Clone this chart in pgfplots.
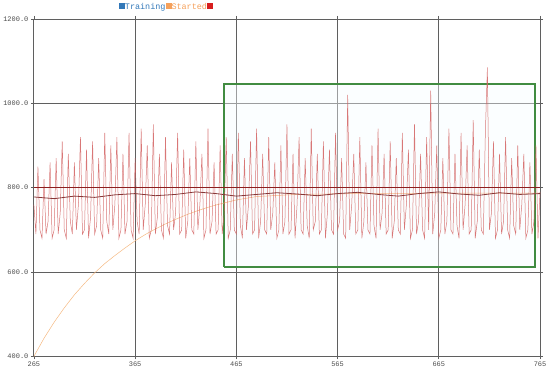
\documentclass[border=0pt]{standalone}
\usepackage{pgfplots}
\pgfplotsset{compat=1.18}
\usepackage{fontspec}
\setmainfont{Liberation Mono}
\definecolor{gridc}{RGB}{95,95,95}
\definecolor{sig}{RGB}{210,95,95}
\definecolor{avg}{RGB}{135,55,55}
\definecolor{basec}{RGB}{140,30,30}
\definecolor{growc}{RGB}{245,185,130}
\definecolor{boxg}{RGB}{65,140,65}
\definecolor{legb}{RGB}{50,120,185}
\definecolor{lego}{RGB}{245,160,90}
\definecolor{legr}{RGB}{215,30,30}

\pgfplotstableread{
x y
265 760
267 690
269 850
271 700
273 680
275 820
277 690
279 720
281 860
283 680
285 700
287 870
289 690
291 740
293 910
295 700
297 680
299 880
301 720
303 690
305 860
307 700
309 760
311 920
313 690
315 700
317 890
319 680
321 730
323 910
325 690
327 710
329 870
331 700
333 680
335 930
337 720
339 690
341 900
343 700
345 760
347 920
349 680
351 700
353 880
355 690
357 720
359 930
361 700
363 680
365 870
367 720
369 690
371 940
373 700
375 760
377 900
379 680
381 700
383 950
385 690
387 730
389 880
391 700
393 680
395 920
397 710
399 690
401 860
403 700
405 740
407 930
409 690
411 700
413 890
415 680
417 720
419 870
421 700
423 690
425 910
427 700
429 760
431 880
433 680
435 700
437 940
439 690
441 720
443 860
445 690
447 700
449 900
451 690
453 740
455 920
457 680
459 700
461 880
463 700
465 690
467 930
469 710
471 680
473 870
475 700
477 760
479 910
481 690
483 700
485 940
487 680
489 720
491 880
493 700
495 690
497 920
499 700
501 740
503 860
505 680
507 700
509 900
511 690
513 720
515 950
517 690
519 700
521 880
523 680
525 760
527 920
529 700
531 690
533 870
535 710
537 680
539 940
541 700
543 720
545 880
547 690
549 700
551 910
553 680
555 740
557 890
559 700
561 690
563 930
565 700
567 720
569 870
571 690
573 680
575 1020
577 700
579 760
581 880
583 690
585 700
587 920
589 680
591 720
593 860
595 700
597 690
599 900
601 710
603 680
605 940
607 700
609 740
611 880
613 690
615 700
617 910
619 680
621 720
623 870
625 700
627 690
629 930
631 700
633 760
635 890
637 680
639 700
641 950
643 690
645 720
647 880
649 700
651 680
653 920
655 700
657 1030
659 690
661 740
663 900
665 680
667 700
669 870
671 690
673 720
675 940
677 700
679 690
681 880
683 710
685 680
687 930
689 700
691 760
693 900
695 690
697 700
699 960
701 680
703 720
705 890
707 700
709 690
711 930
713 1085
715 700
717 740
719 910
721 680
723 700
725 880
727 690
729 720
731 920
733 700
735 680
737 870
739 710
741 690
743 900
745 700
747 760
749 880
751 680
753 700
755 860
757 690
759 720
761 900
763 680
765 790
}\signal

\begin{document}
\begin{tikzpicture}
\begin{axis}[
    at={(0,0)}, anchor=south west,
    scale only axis,
    width=507bp, height=338bp,
    xmin=265, xmax=765, ymin=400, ymax=1200,
    xtick={265,365,465,565,665,765},
    xticklabels={265,365,465,565,665,765},
    ytick={400,600,800,1000,1200},
    yticklabels={400.0,600.0,800.0,1000.0,1200.0},
    grid=major,
    grid style={gridc, line width=0.8bp},
    axis line style={gridc, line width=0.8bp},
    tick align=outside,
    major tick length=3bp,
    tick style={gridc, line width=0.6bp},
    ticklabel style={font=\fontsize{7}{8}\selectfont, text=black!70},
    xticklabel style={yshift=1bp},
    yticklabel style={xshift=1bp},
    clip=false,
]
\addplot[draw=boxg, line width=2bp, fill=cyan!4, fill opacity=0.4]
  coordinates {(453,613) (760,613) (760,1046) (453,1046) (453,613)};
\addplot[growc, line width=0.5bp] coordinates {
(265,400) (275,443) (285,481) (295,515) (305,546) (315,573) (325,598)
(335,620) (345,639) (355,657) (365,674) (375,689) (385,702) (395,714)
(405,725) (415,735) (425,744) (435,752) (445,759) (465,771) (485,779)
(525,784) (585,786) (665,787) (765,787)};
\addplot[sig, line width=0.5bp, opacity=0.85] table[x=x, y=y] {\signal};
\addplot[basec, line width=0.8bp] coordinates {(265,800) (765,800)};
\addplot[avg, line width=0.8bp] coordinates {
(265,778) (285,774) (305,780) (325,777) (345,783) (365,786) (385,781)
(405,784) (425,790) (445,786) (465,780) (485,784) (505,788) (525,785)
(545,781) (565,786) (585,789) (605,784) (625,780) (645,786) (665,790)
(685,785) (705,782) (725,788) (745,784) (765,786)};
\end{axis}
\node[anchor=west, inner sep=0pt, font=\fontsize{8.5}{9}\selectfont] at (85bp,350bp)
  {{\color{legb}\rule{6bp}{6bp}}\textcolor{legb}{Training}{\color{lego}\rule{6bp}{6bp}}\textcolor{lego}{Started}{\color{legr}\rule{6bp}{6bp}}};
\path[use as bounding box] (-33bp,-15bp) rectangle (517bp,357bp);
\end{tikzpicture}
\end{document}
